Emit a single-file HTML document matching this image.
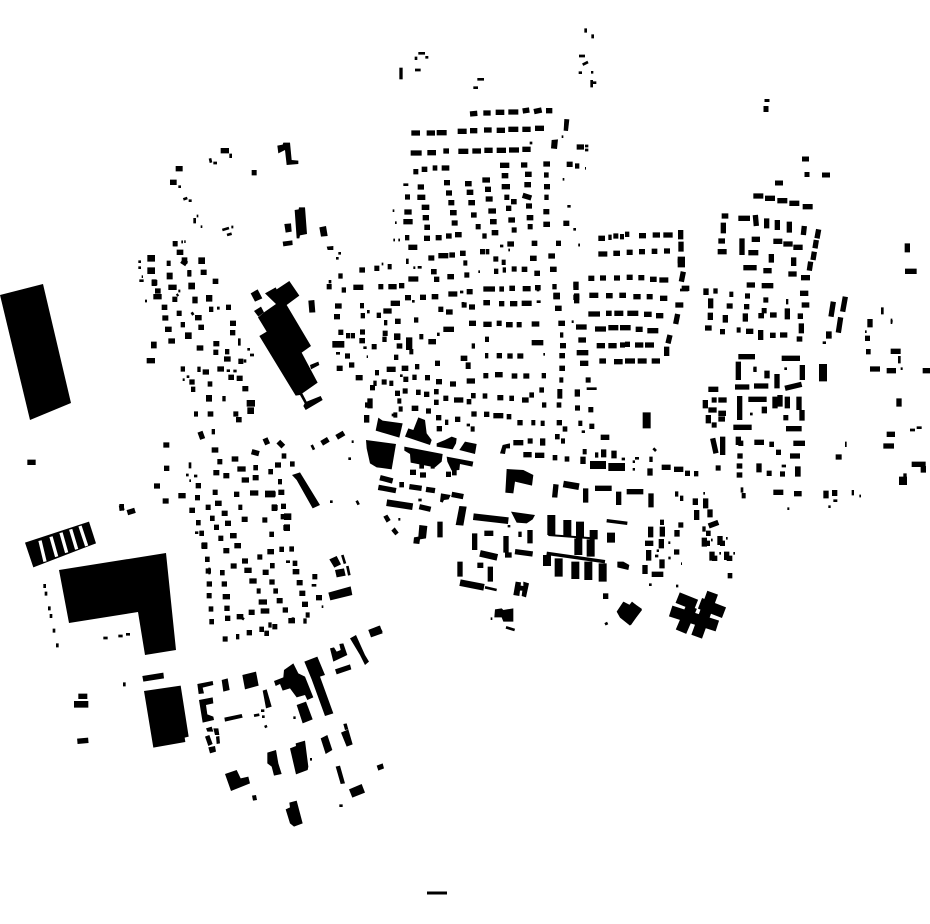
<!DOCTYPE html>
<html><head><meta charset="utf-8"><title>Figure-ground plan</title>
<style>
html,body{margin:0;padding:0;background:#fff}
svg{display:block}
path{fill:none;stroke:#000}
.s{stroke-width:16}.m{stroke-width:20}.t{stroke-width:8}.l{stroke-width:24}
polygon{fill:#000}
</style></head><body>
<svg width="930" height="924" viewBox="0 0 930 924" xmlns="http://www.w3.org/2000/svg">
<!-- large real-coordinate shapes -->
<polygon points="0,295 43,284 71,403 30,420"/>
<polygon points="59,570 166,553 176,650 145,655 138,612 69,623"/>
<path d="M427 893H447" style="stroke-width:3"/>
<path d="M767 99v3M766 106v6M802 159h7M807 172v5M822 175h8M775 183h8" style="stroke-width:5"/>
<!-- zoom 10 -->
<g transform="translate(0 450) scale(.33333)">
<polygon points="75,278 267,215 288,280 262,290 100,352"/>
<path d="M120 272L135 335M153 260L170 320M183 248L200 308M212 238L230 298M240 228L260 288" style="stroke:#fff;stroke-width:10"/>
<path class="t" d="M134 402v12M138 425v12M148 469v12M153 492v12M162 536v12M172 580v12M310 564h13M355 558h13M378 553h12M373 697v12"/>
<path class="s" d="M82 37h25M235 739h27M232 874l33-3M382 188l23-7M358 175l14-3"/>
<path class="m" d="M358 172l14 0M222 763h43"/>
</g>
<!-- zoom 9 -->
<g transform="translate(390 20) scale(.33333)">
<path d="M33 143v35" style="stroke-width:10"/>
<path class="t" d="M75 150h17M262 178h20M250 203h14M567 108h18M578 134l16-8M566 158h10M603 157h7M78 110v10M85 100h20M106 112h9M587 25v13M608 43v12M605 180v22M605 188h14"/>
</g>
<!-- zoom 8 -->
<g transform="translate(160 130) scale(.33333)">
<polygon points="352,47 368,44 370,38 390,38 395,90 415,92 415,102 380,105 375,60 355,70"/>
<polygon points="404,240 416,238 417,232 435,232 441,312 420,316 418,325 410,325"/>
<polygon points="373,282 393,280 395,305 377,308"/>
<polygon points="478,292 498,288 503,318 483,320"/>
<polygon points="368,335 397,331 398,345 370,349"/>
<polygon points="500,350 520,348 520,360 503,360"/>
<path class="s" d="M182 62h25M47 116h21M30 157h20M275 128h15M100 272h8M38 341h14"/>
<path class="t" d="M212 71v13M150 85l3 13M160 99h11M55 170h8M70 208l12-4M86 212h9M110 258h5M122 290h5M187 300l20-6M214 291h6M201 315l14-4M64 336h5M73 335h4"/>
</g>
<!-- zoom 2 -->
<g transform="translate(130 230) scale(.33333)">
<polygon points="478,153 508,197 470,225 543,348 515,368 563,458 517,490 530,515 572,498 578,510 527,540 520,528 524,520 510,495 497,497 388,318 410,305 384,262 402,247 438,222 405,190 437,172 440,178"/>
<polygon points="540,405 565,395 568,405 543,418"/>
<polygon points="362,190 383,178 397,205 375,215"/>
<polygon points="372,243 393,230 402,247 385,260"/>
<polygon points="535,212 553,210 556,247 538,248"/>
<path class="s" d="M130 41h13M140 67h20M110 100h12M155 92l15 10M172 130h12M212 127h18M65 158h17M115 172h25M248 154h17M75 183h17M70 200h25M127 208h15M95 232h17M97 264h18M140 250h15M195 263h20M237 238h13M288 232h15M152 284h13M105 298h20M205 292h17M300 280h18M115 333h20M300 308h16M250 341h18M200 354h20M250 367h15M285 365h13M50 392h25M282 387h20M325 394h15M152 417h13M202 418h10M218 426h19M262 417h20M295 442h17M320 445h18M178 456h16M233 462h14M183 478h13M337 476h18M277 506h10M192 552h12M233 552h17M310 552h15M318 569h17"/>
<path class="m" d="M52 85h23M155 92h17M205 92h20M52 122h23M172 130h12M110 138h18M65 158h15M175 168h20M187 210h16M228 205h19M165 317h20M63 345h17M228 505h18M350 520h25M352 542h20"/>
<path class="t" d="M155 35h3M163 35h3M25 95h8M25 113h8M35 140h4M28 152h13M145 183h6M45 213h6M265 230v9M345 388v10M352 358h8M360 375h12M290 422h10M310 423h10M158 449h6M170 440h8M185 247l5 8M328 325v22M140 197l5-4"/>
</g>
<!-- zoom 3 -->
<g transform="translate(140 430) scale(.33333)">
<polygon points="456,135 480,127 540,225 518,235 470,150"/>
<polygon points="565,488 632,469 637,495 571,511"/>
<polygon points="568,388 590,378 603,403 583,413"/>
<polygon points="585,420 612,415 617,437 590,442"/>
<path class="s" d="M180 5l8 22M215 5h10M375 25l8 18M415 35l15 15M545 40l20-12M590 22l22-13M70 45h18M215 60h20M335 65l22 6M275 87h20M232 95h15M425 78h14M450 102h14M405 105h18M72 115h16M220 128h18M250 137h18M292 117h25M340 113h14M385 125h14M305 150h22M338 143h18M414 155h12M42 168h18M167 167h16M375 192h32M415 187h18M330 189h25M115 197h22M218 187h15M282 193h16M165 203h15M68 213h18M225 220h20M197 232h15M295 232h12M148 241h17M245 250h18M395 233h18M423 229h15M168 278h14M210 265h14M255 280h18M367 270h15M305 268h18M422 260h20M430 293h20M222 292h15M270 317h20M178 310h14M388 313h14M235 325h15M184 347h18M283 347h20M250 362h18M382 365h20M418 358h14M448 357h14M352 381h15M306 393h18M272 408h18M195 388h14M458 400h14M390 407h14M313 421h22M368 427h18M197 423h16M240 428h14M458 425h20M517 440h15M328 453h22M388 456h16M470 458h18M200 462h16M245 462h16M350 483h12M400 483h14M478 490h18M200 497h15M248 500h22M356 516h25M410 512h18M528 503h18M486 523h18M206 537h14M253 535h16M362 543h26M326 547h18M428 540h16M290 560h20M497 555h12M255 565h16M208 575h14M445 572h20M490 573h10M385 585h10M397 590h15M358 598h14M248 627h15M288 620h10M320 608h16M373 610h14M455 570l8 0"/>
<path class="m" d="M375 192h30M432 260h22M432 293h18M395 233h16M205 423h6M185 347h17"/>
<path class="t" d="M150 97v18M138 135h8M162 138h10M148 152h5M438 395h12M515 466h14M545 530h5M515 45l7 14M607 375l8 26M622 408l6 28M570 215h8M650 212l6 12M635 35h6M625 86h8M300 560l12 8M165 308h10"/>
</g>
<!-- zoom 1 -->
<g transform="translate(320 90) scale(.33333)">
<polygon points="733,87 748,88 744,123 731,122"/>
<polygon points="695,150 714,148 711,177 693,175"/>
<path class="s" d="M450 72l22-2M490 69h22M527 67h26M565 66h30M608 63l20-3M642 65l23-5M678 62h19M274 129h26M320 129h25M350 128h30M413 124h27M450 122h22M492 120h23M530 121h25M565 118h30M607 118h25M645 115h27M272 189h33M322 188h26M370 183h17M415 184h30M457 183h26M493 181h25M530 181h28M567 180h30M607 178h25M280 245h15M305 238h17M338 234h14M365 234h23M540 226h28M603 225h19M670 222h20M372 278h18M435 281h20M487 270h23M545 257h20M615 253h20M672 255h14M293 291h19M378 309h18M440 307h20M495 298h18M545 290h25M613 284h20M672 290h18M255 321h15M292 322h24M385 338h18M445 338h20M497 327h21M553 322h15M608 316l26 8M673 322h13M305 352h23M390 368h20M453 375h17M505 363h23M558 355h16M573 335h17M618 348h18M670 365h18M253 366h22M308 383h19M395 399h18M467 410h15M510 395h20M565 390h20M620 383h20M670 403h20M250 395h28M313 412h17M575 420h15M515 428h20M487 438h13M623 410h15M255 443h13M312 445h18M347 443h18M378 438h17M405 434h20M740 223h18M765 228h13M770 171h22M730 400h18M265 472h27M480 485h15M497 485h11M325 504h18M355 497h30M388 495h17M420 490h17M635 460h17M708 460h15M562 462h20M520 507h15M545 517h12M630 505h20M685 498h20M430 519h12M118 540h17M163 535h15M203 530h12M333 545h17M522 544h13M548 540h10M575 537h15M605 538h17M643 550h17M690 538h20M265 567h30M342 568h16M382 560h20M433 555h15M55 558h13M20 590h15M65 600h13M100 592h30M175 590h15M205 590h25M237 587h16M490 597h35M538 597h14M568 595h17M608 596h24M645 593h17M697 590h13M760 585h15M212 640h28M255 623h18M300 622h18M335 620h20M385 612h27M440 605h18M490 638h20M537 641h16M570 641h22M605 640h30M425 645h15M447 651h18M700 618h20M760 622h18M705 655h20M45 648h20M120 647h12M190 663h25M170 676h13M355 658h15M378 666h20M42 680h18M122 677h13M192 698h10M225 694h17M282 690h13M447 700h21M490 703h25M530 700h15M558 704h20M590 704h15M635 702h23M715 700h20M55 727h15M78 737h12M92 737h13M120 726h15M188 730h15M222 740h19M298 740h12M370 718h32M325 755h23M118 752h17M155 770h15M187 748h13M230 768h17M495 748h12M635 758h35M720 735h10M720 767h18M455 768h10M268 785h12M75 798h15M222 802h13M495 797h10M530 797h16M562 798h16M592 798h18M50 835h18M87 825h16M200 838h27M245 835h20M285 830h13M165 848h12M345 820h15M422 805h20M718 797h17M718 835h17M107 863h21M250 868h15M277 862h13M315 863h15M348 875h18M390 882h18M490 857h15M525 854h23M575 858h17M610 858h18M665 857h13M718 870h12M440 873h25M185 876h15M208 880h12M160 880h10M150 893h15"/>
<path class="m" d="M700 618h20M37 763h36M258 752h19M222 740h19M258 770h19M437 827h15"/>
<path class="t" d="M795 168h10M795 180h10M742 349h10M540 468h10M280 533h6M293 532h12M185 522h5M262 506v16M55 490h8M48 505h8M30 570v10M475 545h5M650 600h8M650 635h12M355 728v10M130 773h10M48 790h12M425 640h8M240 857h8M420 606h10M280 630v8M728 268h5M775 465h5M795 235h3M725 140h5M633 155v8M565 480h5M250 284h15M218 362h5M225 398h5M220 450h5M235 450h5M670 793h5M755 695h6M145 660v10M140 800h4"/>
</g>
<!-- zoom 4 -->
<g transform="translate(360 380) scale(.33333)">
<polygon points="47,152 55,113 68,122 128,130 118,173 75,160"/>
<polygon points="135,170 145,145 160,150 175,112 195,120 200,160 215,180 210,195"/>
<polygon points="230,190 255,180 275,170 290,175 288,190 278,208 230,200"/>
<polygon points="298,210 315,185 350,192 345,222"/>
<polygon points="18,180 108,192 95,268 50,262 30,250 20,205"/>
<polygon points="133,200 248,222 245,245 225,262 152,248 150,222 133,212"/>
<polygon points="260,230 340,245 337,260 300,252 298,270 275,272 262,245"/>
<polygon points="440,267 490,270 520,285 516,317 465,305 460,340 436,338"/>
<polygon points="453,395 525,405 518,418 500,430 470,428"/>
<polygon points="287,435 298,378 320,380 310,437"/>
<polygon points="178,435 202,438 198,475 180,478 178,492 160,490 162,472 175,470"/>
<polygon points="467,605 483,607 482,617 490,618 490,605 507,610 498,652 485,648 487,632 480,632 478,648 460,645"/>
<polygon points="405,688 425,685 430,690 460,685 460,725 430,725 425,712 403,712"/>
<polygon points="770,695 790,665 808,675 816,665 846,690 810,737 780,713"/>
<polygon points="25,750 60,737 68,760 33,772"/>
<polygon points="772,545 790,545 808,555 805,570 772,562"/>
<polygon points="420,220 428,195 450,190 450,205 438,205 435,222"/>
<polygon points="243,340 272,345 266,358 252,360 248,368 240,365"/>
<polygon points="70,410 82,404 92,420 80,428"/>
<polygon points="94,452 104,442 116,458 106,466"/>
<polygon points="580,312 596,314 592,353 576,352"/>
<path class="s" d="M15 75h22M20 105v23M30 55v30M100 105h12M105 40h15M128 33h15M168 37h14M192 43h16M222 35h14M250 55h15M282 60h28M320 65h14M333 47h14M368 48h14M412 53h18M448 55h14M486 60h20M508 45h14M538 30h14M592 35h15M592 48h15M112 63h12M116 87h12M155 85h20M198 93h15M222 67h14M546 75h13M590 75h14M228 113h16M255 127h10M285 118h16M334 102h16M372 103h16M400 107h30M440 110h14M472 128h16M514 128h12M542 130h12M590 128h16M608 147h14M230 146h16M332 147h12M460 188h30M503 183h15M548 175v22M585 170h14M603 183h12M490 224h25M525 226h28M578 233h14M614 237h14M150 277h18M180 285h18M178 258h14M212 258h12M258 283h15M276 278h14M60 293l38 10M55 322l53 10M118 314h14M148 320l37 5M198 328l27 4M275 343l35 7M178 380l34 8M240 425v47M373 460h27M344 460v50M438 468v50M475 463h10M510 450v40M435 525h20M465 515l53 7M300 545v45M352 556h18M391 560v45"/>
<path class="m" d="M80 368l78 12M340 410l105 12M360 520l52 12M300 608l72 14M610 312l47 8"/>
<path class="t" d="M95 105h15M175 360h10M115 418h6M375 622l35 8M447 435v7M392 716h5M438 742l26 8M735 733l8-4M320 135h10"/>
<path class="l" d="M574 405v60M622 420v50M660 425v50M701 450v28M655 475v50M692 478v52M561 525v33M596 535v55M646 545v52M685 545v55M728 550v55M753 458v30"/>
<path style="stroke-width:6" d="M565 465l135 10"/>
<path style="stroke-width:10" d="M560 520l175 25M740 422l62 8"/>
<path class="s" d="M737 640v17"/>
</g>
<!-- zoom 7 -->
<g transform="translate(600 500) scale(.33333)">
<path style="stroke-width:34" d="M338 278L290 410M275 320L243 395M233 293L288 315M212 333L352 378M300 310L372 338"/>
<path class="s" d="M180 67h12M152 80v32M187 80v30M235 75h15M231 90v20M135 130h25M184 117v28M146 150v32M222 156h16M186 178v27M135 195v27M155 223h35M326 78l29-11M307 87h10M318 100h14M313 113v27M313 130h17M360 108v27M360 130h15M336 155v27M336 175h16M380 155v25M380 175h17M383 227h14"/>
<path class="t" d="M205 128h6M170 152h7M165 168h10M205 174h7M147 254h8M228 258h7M243 191h3M333 120h5M378 115h5M358 160h5M400 160h5"/>
</g>
<!-- zoom 5 -->
<g transform="translate(570 180) scale(.33333)">
<path class="s" d="M85 175h20M115 172h10M130 168h15M150 170h12M165 163h13M207 167h21M248 165h22M280 165h28M332 150v28M85 222h27M130 220h20M170 217h18M207 215h18M245 214h17M282 213h18M333 185v30M323 244h22M323 254h22M340 275l-6 30M55 295h18M90 294h18M132 294h18M170 292h18M205 293h18M240 298h20M268 300h27M58 346h27M108 347h20M148 346h20M190 350h22M230 350h18M270 355h22M18 305v25M20 340v30M335 325h23M316 375h24M55 402h35M108 400h17M133 400h27M172 400h33M222 403h23M258 407h22M323 402l-6 30M18 441h32M75 447h33M115 443h30M150 443h32M197 448h21M232 452h33M25 480h23M20 518h35M80 497h25M115 497h25M150 495h15M165 493h15M195 495h25M225 495h27M300 465l-6 25M290 500v28M30 550h25M88 543h20M132 545h26M165 543h30M203 543h27M245 543h25M550 48h30M585 55h30M622 62h30M658 70h30M698 80h30M455 108h20M505 115h35M556 105l3 33M590 115v30M622 120v30M658 125v33M703 138l-3 27M460 128v32M746 148l-5 27M739 180l-4 25M733 215l-4 25M722 245l-4 27M445 183h20M516 175v50M545 178h25M610 184h27M640 192h28M670 202h28M443 215h27M535 218h30M604 222v26M671 232v26M520 263h40M580 272h25M655 282h25M693 293h27M530 315h25M575 317h35M408 325v20M430 333h13M478 343h12M525 348h15M580 360h15M648 365h7M690 340h25M695 375h23M422 355v30M470 378h18M522 380h16M575 392h15M652 385v33M421 398v22M466 405v23M526 400v25M565 407h17M600 405h20M691 400v17M405 444h20M450 455h15M500 450h12M528 454h22M572 450v30M600 466h17M630 465h22M694 430v30M680 477h17M790 365l-7 45M826 350l-8 45M812 412l-7 46M768 462h17M1012 190v27M1005 274h35M900 417v25M885 475h15M888 515h14M962 514h30M900 567h30M950 572h28M1058 572h22M505 530h50M505 545v55M550 568h10M591 572v23M621 582v43M635 535h55M697 555v45M495 621h43M552 618h43M645 625l50-12M509 648v72M535 658h55M583 680v20M615 650v35M630 645v35M652 650v35M687 650v40M696 690v32M640 713h15M490 742h55M648 746h47M415 628h30M406 660v25M425 660h15M445 660h25M415 690h25M445 700h23M415 705v25M425 735h15M445 717h20M428 775l10 45M458 770v55M505 770v25M505 790h15M553 787h29M598 793h14M670 790h35M618 817h15M660 828h30M510 820v16M500 858h17M500 885h17M567 850v27M590 880h15M630 882h15M675 867h17M675 882h17M512 930h8M515 947h12M610 937h30M672 941h23M950 763h25M940 798h32M797 831h18M1025 853h42M1060 858v20M987 655v25M47 600h15M22 628v22M15 684h15M55 689h15M25 730h12M58 739h15M92 772h26M38 815h12M39 830v22M75 825h10M101 808v24M132 812v23M238 838h10M240 865v22M275 862h27M312 868h28M345 880h15M372 881h13M437 864h15M47 925v43M75 925h50M146 935v40M170 935h50M243 940v42M315 942h10M330 955h10M376 955v20M407 955v30M380 990v30M420 988v24M768 932v23M794 930v18M845 938h7M962 424h5M825 793h5"/>
<path class="m" d="M323 240h22M1000 890h10"/>
<path class="l" d="M759 552v52M230 697v48M999 890v25M60 855h48M115 861h50"/>
<path class="t" d="M50 626h30M937 382v21M962 424h6M988 528v22M992 566h6M550 568h5M643 566h8M540 702h8M1020 750h15M1040 743h15M188 845h7M195 835h12M188 868h7M155 837h10M35 755h10M775 980h7M790 962h12M868 948h5M652 986h6M400 940h5M635 858h13M250 805l8 8M885 455h5M330 330h25M10 148h8M25 195h5M758 488h10M768 472h17"/>
</g>
<!-- zoom 6 -->
<g transform="translate(130 620) scale(.33333)">
<polygon points="37,168 100,158 102,175 40,185"/>
<polygon points="42,213 152,197 176,350 164,353 166,366 70,383"/>
<polygon points="202,192 248,183 250,195 218,203 222,220 206,222"/>
<polygon points="207,240 248,232 250,250 228,255 232,283 250,290 252,300 218,308"/>
<polygon points="275,180 293,175 299,210 280,215"/>
<polygon points="337,165 378,155 386,197 345,208"/>
<polygon points="432,183 460,172 462,150 490,130 505,160 525,170 550,232 532,240 525,225 500,232 480,205 458,212 450,192 437,198"/>
<polygon points="523,125 562,110 585,165 570,170 610,280 585,288 545,178"/>
<polygon points="398,212 410,208 425,260 408,265"/>
<polygon points="283,293 335,282 338,293 285,305"/>
<polygon points="500,255 528,245 548,298 518,310"/>
<polygon points="600,85 612,82 620,95 632,90 628,72 640,70 652,105 610,125"/>
<polygon points="615,148 660,133 664,148 620,163"/>
<polygon points="660,55 678,45 705,105 717,125 705,135 690,105"/>
<polygon points="715,30 748,17 758,35 725,50"/>
<polygon points="228,325 245,320 250,335 232,335"/>
<polygon points="250,325 265,325 268,345 255,345"/>
<polygon points="225,350 238,345 248,372 235,378"/>
<polygon points="258,350 268,348 270,370 260,372"/>
<polygon points="235,382 255,378 258,395 240,400"/>
<polygon points="572,355 592,345 607,390 587,402"/>
<polygon points="633,338 655,328 668,373 650,380"/>
<polygon points="640,312 650,310 655,328 645,330"/>
<polygon points="412,398 438,390 445,430 455,462 432,467 425,440 412,430"/>
<polygon points="480,385 498,378 497,370 525,362 535,440 533,450 498,463"/>
<polygon points="285,462 320,450 332,475 355,470 360,490 303,513"/>
<polygon points="617,440 630,437 645,490 632,492"/>
<polygon points="657,508 695,492 705,518 667,533"/>
<polygon points="740,437 758,430 762,445 745,452"/>
<polygon points="467,568 480,562 478,548 500,542 518,610 492,620 480,610"/>
<polygon points="366,527 378,525 381,540 369,542"/>
<path class="t" d="M372 287l16-3M393 272h10M396 290h8M406 316l3 7M490 293h7M628 557h10M540 418h6"/>
</g>
<polygon points="617,612 624,602 630,605 632,602 642,609 631,625 621,618"/>
</svg>
</body></html>
